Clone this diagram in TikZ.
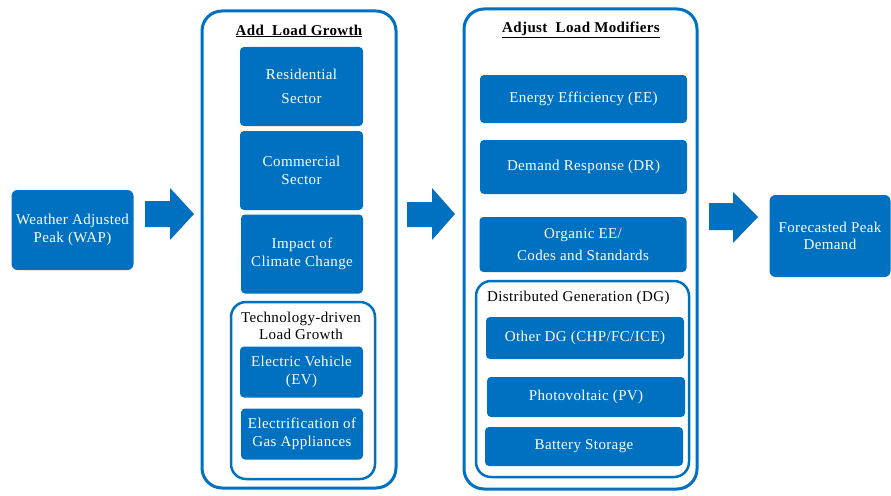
\documentclass[tikz,border=0pt]{standalone}
\usepackage{fontspec}
\setmainfont[LetterSpace=2.5]{Liberation Serif}
\definecolor{mainblue}{HTML}{0070C0}
\newcommand\boxfont{\fontsize{15}{17.5}\selectfont}
\tikzset{
  bluebox/.style={fill=mainblue, draw=none, rounded corners=4pt, text=white,
    align=center, font=\boxfont, inner sep=0pt},
  frame/.style={draw=mainblue, line width=3pt, rounded corners=20pt},
  subframe/.style={draw=mainblue, line width=2.5pt, rounded corners=15pt},
  heading/.style={font=\boxfont\bfseries, inner sep=0pt},
  sublabel/.style={font=\boxfont, inner sep=0pt, align=center},
  blockarrow/.style={fill=mainblue, draw=none}
}
\begin{document}
\begin{tikzpicture}[x=1pt, y=-1pt]
\useasboundingbox (0,0) rectangle (891,495);

% input and output
\node[bluebox, rounded corners=6pt, minimum width=122pt, minimum height=80pt] (wap) at (72.5,230)
  {Weather Adjusted\\Peak (WAP)};
\node[bluebox, rounded corners=6pt, minimum width=121pt, minimum height=82pt] (fpd) at (830,236)
  {Forecasted Peak\\Demand};

% load growth column
\draw[frame] (202,11) rectangle (396,488);
\node[heading] (growth) at (299,31) {\underline{Add\ \ Load Growth}};
\node[bluebox, minimum width=123pt, minimum height=79pt] (res) at (301.5,86.5)
  {Residential\\[6pt]Sector};
\node[bluebox, minimum width=123pt, minimum height=79pt] (com) at (301.5,170.5)
  {Commercial\\Sector};
\node[bluebox, minimum width=122pt, minimum height=79pt] (clim) at (302,254)
  {Impact of\\Climate Change};
\draw[subframe] (231,302) rectangle (375,479);
\node[sublabel] (tech) at (301,326) {Technology-driven\\Load Growth};
\node[bluebox, minimum width=123pt, minimum height=51pt] (ev) at (301.5,372)
  {Electric Vehicle\\(EV)};
\node[bluebox, minimum width=122pt, minimum height=51pt] (elec) at (302,434)
  {Electrification of\\Gas Appliances};

% load modifier column
\draw[frame] (464,9) rectangle (697,489);
\node[heading] (modif) at (581,30) {\underline{Adjust\ \ Load Modifiers}};
\node[bluebox, minimum width=207pt, minimum height=48pt] (ee) at (583.5,99)
  {Energy Efficiency (EE)};
\node[bluebox, minimum width=207pt, minimum height=54pt] (dr) at (583.5,167)
  {Demand Response (DR)};
\node[bluebox, minimum width=207pt, minimum height=55pt] (org) at (583,244.5)
  {Organic EE/\\[5pt]Codes and Standards};
\draw[subframe] (476,281) rectangle (689,477);
\node[sublabel, anchor=west] (dg) at (487,298) {Distributed Generation (DG)};
\node[bluebox, minimum width=198pt, minimum height=42pt] (odg) at (585,338)
  {Other DG (CHP/FC/ICE)};
\node[bluebox, minimum width=198pt, minimum height=40pt] (pv) at (586,397)
  {Photovoltaic (PV)};
\node[bluebox, minimum width=198pt, minimum height=39pt] (bat) at (584,446.5)
  {Battery Storage};

% block arrows between the stages
\fill[blockarrow] (145,201) -- (170,201) -- (170,188) -- (194,214) -- (170,240)
  -- (170,227) -- (145,227) -- cycle;
\fill[blockarrow] (407,202) -- (432,202) -- (432,188) -- (455,214) -- (432,240)
  -- (432,227) -- (407,227) -- cycle;
\fill[blockarrow] (709,203) -- (733,203) -- (733,192) -- (758,217) -- (733,243)
  -- (733,230) -- (709,230) -- cycle;
\end{tikzpicture}
\end{document}
